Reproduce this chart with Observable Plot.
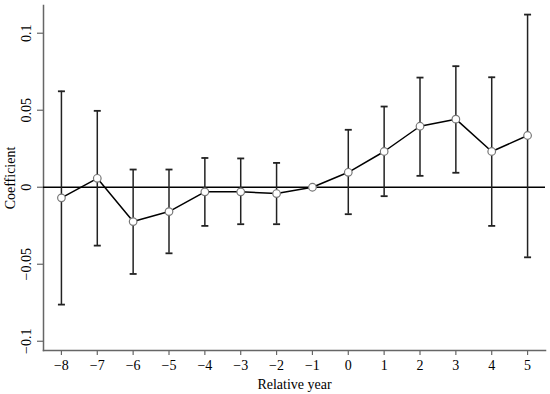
<!DOCTYPE html>
<html>
<head>
<meta charset="utf-8">
<script src="https://cdn.jsdelivr.net/npm/d3@7"></script>
<script src="https://cdn.jsdelivr.net/npm/@observablehq/plot@0.6"></script>
<style>
  html, body { margin: 0; padding: 0; background: #fff; }
  #chart svg { display: block; }
</style>
</head>
<body>
<div id="chart"></div>
<script>
const years = [-8, -7, -6, -5, -4, -3, -2, -1, 0, 1, 2, 3, 4, 5];
const coef  = [-0.0069, 0.0058, -0.0223, -0.0158, -0.003, -0.003, -0.0041, 0, 0.0097, 0.0232, 0.0396, 0.0442, 0.0232, 0.0336];
const lower = [-0.0762, -0.0379, -0.0563, -0.0429, -0.0251, -0.024, -0.024, null, -0.0175, -0.0058, 0.0074, 0.0094, -0.0251, -0.0455];
const upper = [0.0623, 0.0496, 0.0115, 0.0115, 0.019, 0.0187, 0.0158, null, 0.0373, 0.0524, 0.0712, 0.0786, 0.0714, 0.1121];
const yTicks = [-0.1, -0.05, 0, 0.05, 0.1];
const yTickLabels = ["\u22120.1", "\u22120.05", "0", "0.05", "0.1"];
const xTicks = years;

const data = years.map((x, i) => ({x, coef: coef[i], lo: lower[i], hi: upper[i]}));
const bars = data.filter(d => d.lo != null);

const capSymbol = {
  draw(ctx, size) {
    const r = Math.sqrt(size / Math.PI);
    ctx.moveTo(-r, 0);
    ctx.lineTo(r, 0);
  }
};

const fmt = d => {
  const i = yTicks.findIndex(t => Math.abs(t - d) < 1e-9);
  return i >= 0 ? yTickLabels[i] : "";
};

const serif = "'Liberation Serif', 'Times New Roman', serif";

const chart = Plot.plot({
  width: 550,
  height: 394,
  marginLeft: 43,
  marginRight: 5,
  marginTop: 5,
  marginBottom: 44,
  style: {fontFamily: serif, fontSize: "14px", background: "#fff", color: "#000"},
  x: {domain: [-8.5, 5.5]},
  y: {domain: [-0.106, 0.118]},
  marks: [
    Plot.frame({anchor: "left", stroke: "#666", strokeWidth: 1.5}),
    Plot.frame({anchor: "bottom", stroke: "#666", strokeWidth: 1.5}),
    Plot.ruleY([0], {stroke: "#000", strokeWidth: 1.3}),
    Plot.ruleX(bars, {x: "x", y1: "lo", y2: "hi", stroke: "#222", strokeWidth: 1.5}),
    Plot.dot(bars, {x: "x", y: "hi", symbol: capSymbol, r: 3.5, stroke: "#222", strokeWidth: 1.8}),
    Plot.dot(bars, {x: "x", y: "lo", symbol: capSymbol, r: 3.5, stroke: "#222", strokeWidth: 1.8}),
    Plot.line(data, {x: "x", y: "coef", stroke: "#000", strokeWidth: 1.5}),
    Plot.dot(data, {x: "x", y: "coef", r: 3.8, fill: "#fff", stroke: "#777", strokeWidth: 1.2}),
    Plot.axisX({ticks: xTicks, tickSize: 5, tickPadding: 5, stroke: "#666", strokeWidth: 1.2,
      fontSize: 14, fontFamily: serif, fill: "#000",
      tickFormat: d => d < 0 ? "\u2212" + Math.abs(d) : String(d),
      label: "Relative year", labelAnchor: "center", labelArrow: "none", labelOffset: 38}),
    Plot.axisY({ticks: yTicks, tickSize: 6, tickPadding: 7, tickRotate: -90, stroke: "#666", strokeWidth: 1.2,
      fontSize: 14, fontFamily: serif, fill: "#000",
      tickFormat: fmt, label: "Coefficient", labelAnchor: "center", labelArrow: "none", labelOffset: 38})
  ]
});
document.getElementById("chart").appendChild(chart);
</script>
</body>
</html>
